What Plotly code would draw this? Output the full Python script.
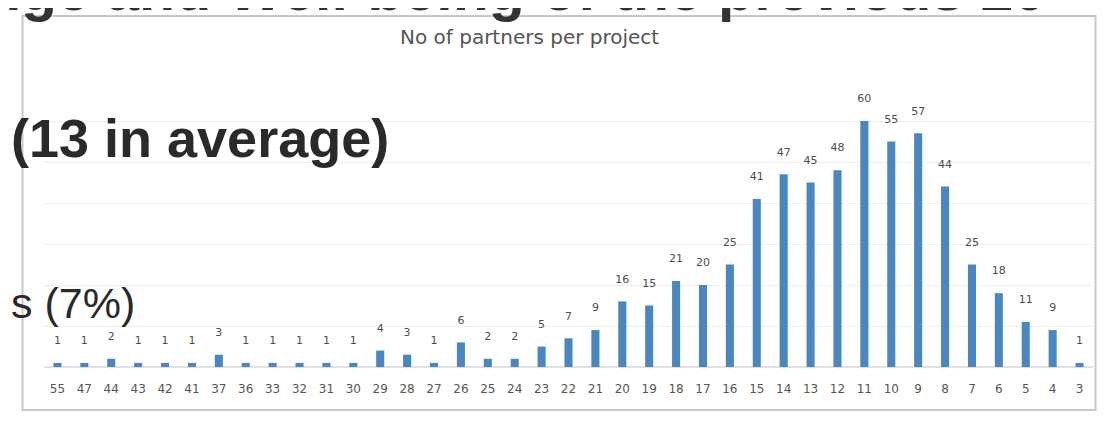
import plotly.graph_objects as go

categories = ["55", "47", "44", "43", "42", "41", "37", "36", "33", "32", "31", "30", "29",
              "28", "27", "26", "25", "24", "23", "22", "21", "20", "19", "18", "17", "16",
              "15", "14", "13", "12", "11", "10", "9", "8", "7", "6", "5", "4", "3"]
projects = [1, 1, 2, 1, 1, 1, 3, 1, 1, 1, 1, 1, 4,
            3, 1, 6, 2, 2, 5, 7, 9, 16, 15, 21, 20, 25,
            41, 47, 45, 48, 60, 55, 57, 44, 25, 18, 11, 9, 1]

chart_title = "No of partners per project"
slide_top = "nge and Well-being of the previous 20"
slide_mid = "(13 in average)"
slide_low = "s (7%)"

fig = go.Figure()
fig.add_trace(go.Bar(
    x=categories, y=projects,
    marker=dict(color="#4a86c0", line=dict(width=0)),
    hoverinfo="skip",
))
fig.add_trace(go.Scatter(
    x=categories, y=projects,
    mode="markers+text",
    marker=dict(size=24, opacity=0),
    text=[str(v) for v in projects], textposition="top center",
    textfont=dict(size=11, color="#4d4d4d", family="DejaVu Sans"),
    cliponaxis=False, hoverinfo="skip",
))

fig.update_layout(
    width=1114, height=422,
    margin=dict(l=35.5, r=28.5, t=72, b=63),
    paper_bgcolor="white", plot_bgcolor="white",
    bargap=0.7,
    showlegend=False,
    xaxis=dict(type="category", range=[-0.5, len(categories) - 0.5], autorange=False,
               showgrid=False, showline=False, ticks="",
               ticklabelstandoff=13,
               tickfont=dict(size=12, color="#555555", family="DejaVu Sans")),
    yaxis=dict(range=[0, 70], autorange=False, dtick=10, showticklabels=False,
               gridcolor="#eeeeee", zeroline=True, zerolinecolor="#e0e0e0", showline=False),
    shapes=[dict(type="rect", xref="paper", yref="paper", x0=-0.0205, x1=1.0024,
                 y0=-0.15, y1=1.223,
                 line=dict(color="#c8c8c8", width=2), layer="below")],
    annotations=[
        dict(text=chart_title, xref="paper", yref="paper", x=0.463, y=1.15,
             yanchor="middle", showarrow=False,
             font=dict(size=20, color="#555555", family="DejaVu Sans")),
        dict(text="<b>" + slide_top + "</b>", xref="paper", yref="paper", x=-0.058, y=1.192,
             xanchor="left", yanchor="bottom", showarrow=False,
             font=dict(size=59, color="#333333", family="Liberation Sans")),
        dict(text="<b>" + slide_mid + "</b>", xref="paper", yref="paper", x=-0.0338, y=0.798,
             xanchor="left", yanchor="middle", showarrow=False,
             font=dict(size=54, color="#2a2a2a", family="Liberation Sans")),
        dict(text=slide_low, xref="paper", yref="paper", x=-0.0338, y=0.223,
             xanchor="left", yanchor="middle", showarrow=False,
             font=dict(size=43, color="#2a2a2a", family="Liberation Sans")),
    ],
)

fig.write_html("out.html")
